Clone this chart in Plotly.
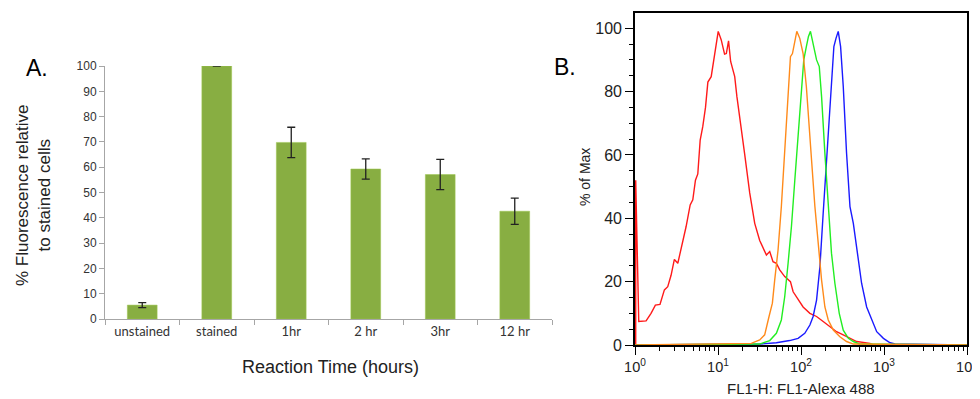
import plotly.graph_objects as go

# ---------------- Panel A data ----------------
categories = ["unstained", "stained", "1hr", "2 hr", "3hr", "12 hr"]
fluor_pct = [5.5, 100, 69.8, 59.3, 57.1, 42.6]
fluor_err = [1.0, 0.0, 6.0, 4.0, 6.0, 5.2]
a_yticks = [0, 10, 20, 30, 40, 50, 60, 70, 80, 90, 100]

# ---------------- Panel B data (FL1 intensity vs % of max) ----------------
red_x = [1.0, 1.02, 1.02, 1.11, 1.36, 1.56, 1.76, 2.00, 2.26, 2.48, 2.72, 2.98, 3.28, 3.59,
         4.13, 4.62, 4.97, 5.35, 5.71, 6.10, 6.56, 7.07, 7.55, 8.28, 8.91, 9.51, 10.06,
         10.94, 12.0, 12.6, 13.4, 14.2, 15.9, 16.9, 19.1, 20.9, 24.1, 27.7, 31.8, 34.9,
         38.3, 42.0, 46.0, 50.5, 55.4, 63.7, 69.9, 74.6, 80.4, 92.3, 106, 128, 154, 185,
         223, 268, 323, 389, 468, 678, 743, 10000]
red_y = [0, 0, 52, 7.4, 7.6, 10, 12.6, 12.8, 17.4, 18.4, 22, 27, 25.8, 30,
         37.4, 44.2, 45.8, 52, 54, 64.7, 69, 75, 83, 84.7, 90, 94, 99,
         96.3, 91.8, 92, 96, 89.5, 84.7, 78.4, 69, 60.5, 48, 38.4, 33, 30.5,
         28.4, 29.5, 26.3, 25.8, 23.7, 21.6, 20.5, 20, 16.8, 14.2, 12, 10, 9, 7.4,
         5.8, 4.2, 3.2, 2.1, 1.1, 0.5, 0, 0]

blue_x = [1, 31.8, 50.5, 73.0, 92.3, 111, 128, 140, 154, 169, 185, 203, 219, 233, 249,
          264, 281, 300, 323, 354, 389, 427, 476, 537, 618, 711, 817, 984, 1183, 1361, 10000]
blue_y = [0, 0.3, 0.7, 1.4, 2.1, 3.7, 6.3, 9, 14.2, 24.7, 41.6, 58.4, 71, 82.6, 94.2,
          96.8, 99, 94.2, 81.6, 60.5, 43.7, 38.4, 29, 19.5, 12, 7.9, 4.2, 2.1, 0.7, 0.3, 0]

green_x = [1, 31.8, 42.0, 50.5, 58.0, 63.7, 69.9, 76.7, 84.2, 92.3, 101, 108, 116, 123,
           130, 140, 154, 166, 177, 194, 213, 233, 256, 289, 323, 372, 427, 514, 10000]
green_y = [0, 0.3, 1.4, 3.7, 7.9, 15.3, 25.8, 37.4, 52, 66.8, 79.5, 90, 94.2, 97.4,
           99, 95.3, 90, 87.9, 78.4, 60.5, 43.7, 29, 19.5, 10, 4.7, 2.1, 1.1, 0.3, 0]

orange_x = [1, 25.2, 31.8, 36.5, 41.2, 45.2, 48.2, 52.9, 58.0, 63.7, 69.9, 74.6, 78.9,
            84.2, 89.0, 96.7, 106, 116, 125, 134, 147, 161, 177, 194, 213, 245, 294,
            354, 427, 10000]
orange_y = [0, 0.5, 1.6, 3.2, 9, 13.2, 20.5, 30, 43.7, 60.5, 78.4, 91, 92,
            96.3, 99, 96.8, 92, 81.6, 68, 58.4, 43.7, 31, 20.5, 12, 7.9, 4.7, 2.6,
            1.1, 0.3, 0]

b_xtickvals = [1, 10, 100, 1000, 10000]
b_xticktext = ["10<sup>0</sup>", "10<sup>1</sup>", "10<sup>2</sup>", "10<sup>3</sup>", "10<sup>4</sup>"]
b_yticks = [0, 20, 40, 60, 80, 100]

# The page body has an 8px margin; figure sized to fit the 980x399 window.
OFF = 8
W, H = 980 - OFF, 399 - OFF


def fx(px):
    return (px - OFF) / W


def fy(py):
    return (H - (py - OFF)) / H


fig = go.Figure()

# Panel A bars
fig.add_trace(go.Bar(
    x=categories, y=fluor_pct,
    error_y=dict(type="data", array=fluor_err, visible=True, color="#222222",
                 thickness=1.3, width=4),
    marker=dict(color="#88ae42", line=dict(color="#9cc64e", width=0.5)),
    xaxis="x", yaxis="y", showlegend=False,
))

# Panel B histograms
for xs, ys, col in [(red_x, red_y, "#ff1a1a"), (blue_x, blue_y, "#1a1aff"),
                    (green_x, green_y, "#22ee22"), (orange_x, orange_y, "#ff8a1a")]:
    fig.add_trace(go.Scatter(x=xs, y=ys, mode="lines", line=dict(color=col, width=1.4),
                             xaxis="x2", yaxis="y2", showlegend=False))

minor_x = [m * 10 ** d for d in range(4) for m in range(2, 10)]


def note(text, px, py, size, angle=0, color="#222"):
    return dict(text=text, x=fx(px), y=fy(py), xref="paper", yref="paper",
                xanchor="center", yanchor="middle", showarrow=False, textangle=angle,
                font=dict(size=size, color=color))


fig.update_layout(
    width=W, height=H, autosize=False,
    margin=dict(l=0, r=0, t=0, b=0, pad=0, autoexpand=False),
    paper_bgcolor="white", plot_bgcolor="white",
    bargap=0.6,
    font=dict(family="Liberation Sans, Arial, sans-serif", color="#222"),
    xaxis=dict(domain=[fx(105), fx(552)], anchor="y", showline=True, linecolor="#a6a6a6",
               linewidth=1, ticks="outside", tickson="boundaries", ticklen=5,
               tickcolor="#a6a6a6", showgrid=False, automargin=False,
               tickfont=dict(family="Lato, Open Sans, sans-serif", size=13, color="#333")),
    yaxis=dict(domain=[fy(319), fy(66)], anchor="x", range=[0, 100],
               tickvals=a_yticks, showline=True, linecolor="#a6a6a6", linewidth=1,
               ticks="outside", ticklen=5, tickcolor="#a6a6a6", showgrid=False, zeroline=False,
               automargin=False, tickfont=dict(size=12, color="#333")),
    xaxis2=dict(domain=[fx(635), fx(967)], anchor="y2", type="log", range=[0, 4],
                tickvals=b_xtickvals, ticktext=b_xticktext, showline=True, mirror=True,
                linecolor="black", linewidth=1.6, ticks="outside", ticklen=8, tickwidth=1.3,
                tickcolor="black", showgrid=False, automargin=False,
                ticklabeloverflow="allow",
                minor=dict(tickmode="array", tickvals=minor_x, ticks="outside", ticklen=4,
                           tickwidth=1, tickcolor="black", showgrid=False),
                tickfont=dict(size=14.5, color="#222")),
    yaxis2=dict(domain=[fy(345), fy(13)], anchor="x2", range=[0, 104.8],
                tickvals=b_yticks, showline=True, mirror=True, linecolor="black", linewidth=1.6,
                ticks="outside", ticklen=8, tickwidth=1.3, tickcolor="black", showgrid=False,
                zeroline=False, automargin=False,
                minor=dict(dtick=5, ticks="outside", ticklen=4, tickwidth=1, tickcolor="black",
                           showgrid=False),
                tickfont=dict(size=16, color="#222")),
    annotations=[
        note("A.", 37, 68, 23, color="black"),
        note("B.", 565, 67, 23, color="black"),
        note("% Fluorescence relative<br>to stained cells", 34, 196, 17, angle=-90),
        note("Reaction Time (hours)", 330, 367, 18),
        note("% of Max", 585, 177, 14, angle=-90),
        note("FL1-H: FL1-Alexa 488", 801, 388, 15),
    ],
)

fig.write_html("out.html")
